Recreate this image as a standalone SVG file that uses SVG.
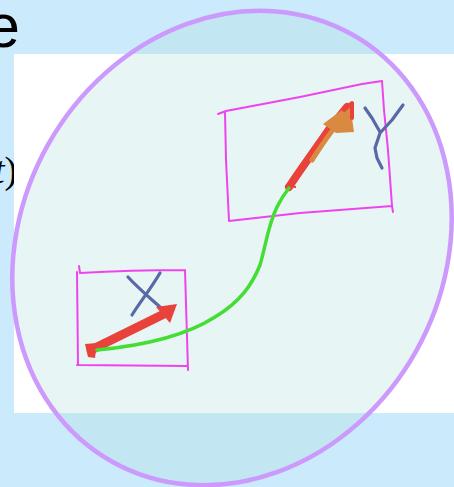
<svg xmlns="http://www.w3.org/2000/svg" width="454" height="487" viewBox="0 0 454 487">
  <style>
    .box { fill: none; stroke: #ee44ee; stroke-width: 2; stroke-linecap: round; stroke-linejoin: round; }
    .glyph { fill: none; stroke: #5a68a6; stroke-width: 3.2; stroke-linecap: round; stroke-linejoin: round; }
    .red { fill: none; stroke: #e8423a; stroke-linecap: round; stroke-linejoin: round; }
    .conn { fill: none; stroke: #44dd33; stroke-width: 3.5; stroke-linecap: round; }
    .big { font-family: "Liberation Sans", Arial, sans-serif; font-size: 61px; fill: #000; }
    .math { font-family: "Liberation Serif", "Times New Roman", serif; font-size: 38px; fill: #000; }
  </style>
  <rect x="0" y="0" width="454" height="487" fill="#cbeafc"/>
  <text class="big" x="-14" y="47">e</text>
  <text class="math" x="-6" y="183"><tspan font-style="italic">t</tspan>)</text>
  <rect x="14" y="54" width="440" height="359" fill="#ffffff"/>
  <ellipse id="region" cx="232" cy="248" rx="211" ry="245" transform="rotate(29.4 232 248)" fill="rgb(180,222,222)" fill-opacity="0.3" stroke="#cc99fc" stroke-width="4.5"/>
  <g id="box-x">
    <path class="box" d="M79,266 L80,273 Q130,270 185,270 M77,272 L78,365 M77,365 L188,366 M185,270 L188,370"/>
    <path class="glyph" d="M128,277 C138,288 150,298 160,307 M160,273 C150,290 140,302 132,315"/>
    <path class="red" stroke-width="9" d="M91,350 L166,313"/>
    <polygon points="177,304 156,307 170,323" fill="#e8423a"/>
    <polygon points="85,344 97,343 95,358 88,357" fill="#e8423a"/>
  </g>
  <g id="box-y">
    <path class="box" d="M218,114 L226,111 L300,97 L362,84 L382,81 L384,110 L388,150 L392,206 L393,212 M229,221 L300,213 L392,206 M225,112 L226,160 L229,221"/>
    <path class="glyph" d="M365,108 L372,118 L380,132 M403,105 L392,120 L380,133 L375,148 L377,158 L382,168"/>
    <path class="red" stroke-width="8" d="M289,187 C300,170 315,150 330,128 L347,107"/>
    <path fill="none" stroke="#d98a40" stroke-width="5" stroke-linecap="round" d="M312,160 C320,148 326,138 336,126"/>
    <polygon points="323,124 350,104 354,132 336,133" fill="#d98a40"/>
    <path class="red" stroke-width="4" d="M344,110 L352,103 L352,118"/>
    <path fill="none" stroke="#e8423a" stroke-width="2" d="M285,186 L296,187"/>
  </g>
  <g id="connectors">
    <path class="conn" d="M97,350 C150,345 190,333 215,317 C240,302 252,285 260,265 C266,245 268,225 277,207 C281,199 285,193 289,188"/>
  </g>
</svg>
